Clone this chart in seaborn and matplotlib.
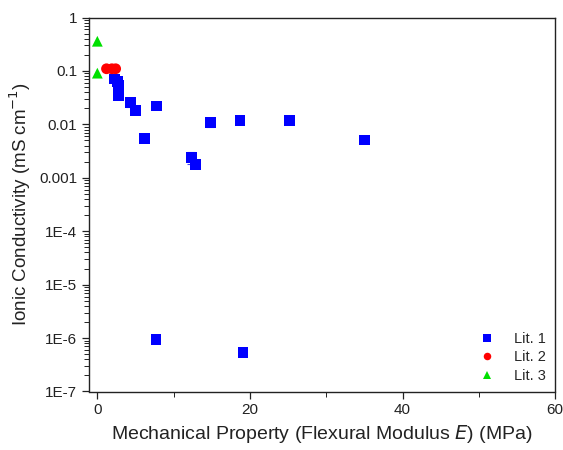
import numpy as np
import pandas as pd
import matplotlib
matplotlib.use("Agg")
import matplotlib.pyplot as plt
import matplotlib.ticker as mticker
import seaborn as sns

# Data
lit1_x = [2.2, 2.6, 2.75, 2.75, 4.3, 5.0, 7.8, 6.2, 14.8, 18.7, 25.2, 12.3, 12.9, 35.0, 7.7, 19.1]
lit1_y = [0.071, 0.063, 0.053, 0.035, 0.026, 0.018, 0.022, 0.0054, 0.011, 0.0118, 0.0118,
          0.0024, 0.00175, 0.0051, 9.4e-7, 5.4e-7]
lit1_err = [0, 0, 0, 0, 0.005, 0, 0, 0, 0.002, 0, 0, 0.0006, 0, 0, 0, 0]
lit2_x = [1.2, 1.9, 2.4]
lit2_y = [0.11, 0.11, 0.11]
lit3_x = [0.0, 0.0]
lit3_y = [0.36, 0.091]

series = ["Lit. 1", "Lit. 2", "Lit. 3"]
colors = {"Lit. 1": "#0000FF", "Lit. 2": "#FF0000", "Lit. 3": "#00E000"}
markers = {"Lit. 1": "s", "Lit. 2": "o", "Lit. 3": "^"}

df = pd.DataFrame({
    "x": lit1_x + lit2_x + lit3_x,
    "y": lit1_y + lit2_y + lit3_y,
    "series": ["Lit. 1"] * len(lit1_x) + ["Lit. 2"] * len(lit2_x) + ["Lit. 3"] * len(lit3_x),
})

sns.set_theme(style="white")
plt.rcParams["font.family"] = ["Liberation Sans", "DejaVu Sans"]
plt.rcParams["ytick.minor.visible"] = True

fig = plt.figure(figsize=(5.63, 4.5), dpi=100)
ax = fig.add_axes([0.158, 0.130, 0.828, 0.831])

ax.errorbar(lit1_x, lit1_y, yerr=lit1_err, fmt="none", ecolor="#4040FF",
            elinewidth=0.8, capsize=3, capthick=0.8, zorder=2)

sns.scatterplot(data=df, x="x", y="y", hue="series", style="series",
                hue_order=series, style_order=series,
                palette=colors, markers=markers, s=60, linewidth=0,
                ax=ax, zorder=3)

ax.set_yscale("log")
ax.set_ylim(1e-7, 1)
ax.set_xlim(-1.1, 60)

ax.xaxis.set_major_locator(mticker.MultipleLocator(20))
ax.xaxis.set_minor_locator(mticker.MultipleLocator(10))
ytick_vals = [1e-7, 1e-6, 1e-5, 1e-4, 1e-3, 1e-2, 1e-1, 1]
ytick_labels = ["1E-7", "1E-6", "1E-5", "1E-4", "0.001", "0.01", "0.1", "1"]
ax.set_yticks(ytick_vals)
ax.set_yticklabels(ytick_labels)
minor_vals = [m * 10.0 ** e for e in range(-7, 0) for m in range(2, 10)]
ax.set_yticks(minor_vals, minor=True)
ax.yaxis.set_minor_formatter(mticker.NullFormatter())

ax.tick_params(axis="both", which="major", direction="out", length=5, width=0.9,
               labelsize=11, colors="#222222", left=True, bottom=True)
ax.tick_params(axis="both", which="minor", direction="out", length=3.5, width=0.7,
               colors="#222222", left=True, bottom=True)

for sp in ax.spines.values():
    sp.set_visible(True)
    sp.set_color("#222222")
    sp.set_linewidth(1.0)

ax.set_xlabel("Mechanical Property (Flexural Modulus $\\it{E}$) (MPa)", fontsize=14, color="#222222")
ax.set_ylabel("Ionic Conductivity (mS cm$^{-1}$)", fontsize=13.5, color="#222222")

leg = ax.legend(loc="lower right", frameon=False, fontsize=10.5, handletextpad=0.9,
                labelspacing=0.3, markerscale=0.7, borderaxespad=0.2)

fig.savefig("out.png", dpi=100)
